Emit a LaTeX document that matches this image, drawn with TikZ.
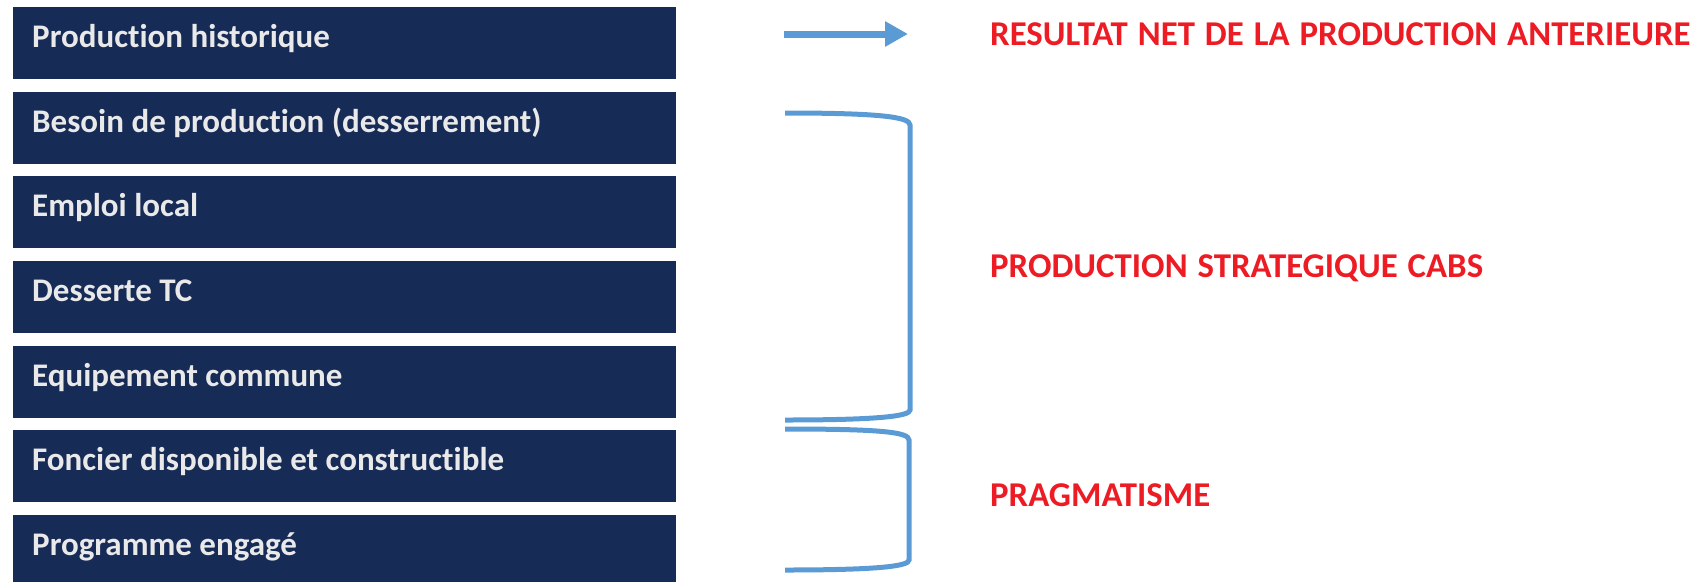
\documentclass[tikz,border=0pt]{standalone}
\usepackage{fontspec}
\setmainfont{Carlito}[Ligatures={NoCommon}]
\usetikzlibrary{arrows.meta}
\definecolor{boxblue}{HTML}{172B57}
\definecolor{textgrey}{HTML}{E9E9E9}
\definecolor{redtxt}{HTML}{ED1C24}
\definecolor{linkblue}{HTML}{5B9BD5}
\newcommand\myredspaces{\spaceskip=10pt plus 2pt minus 2pt\relax}
\begin{document}
\begin{tikzpicture}[x=1pt,y=-1pt,
  item/.style={fill=boxblue, draw=none, anchor=north west, minimum width=663pt, minimum height=72pt, inner sep=0pt, outer sep=0pt},
  itemtext/.style={anchor=base west, inner sep=0pt, text=textgrey, font=\fontsize{33}{36}\selectfont\bfseries},
  result/.style={anchor=base west, inner sep=0pt, text=redtxt, font=\fontsize{34.8}{38}\selectfont\bfseries, execute at begin node=\myredspaces},
  brace/.style={draw=linkblue, line width=5pt},
]
\useasboundingbox (0,0) rectangle (1702,582);
\node[item] (b1) at (13,7) {};
\node[item] (b2) at (13,92) {};
\node[item] (b3) at (13,176) {};
\node[item] (b4) at (13,261) {};
\node[item] (b5) at (13,346) {};
\node[item] (b6) at (13,430) {};
\node[item, minimum height=67pt] (b7) at (13,515) {};
\node[itemtext] (t1) at (32,47) {Production historique};
\node[itemtext] (t2) at (32,132) {Besoin de production (desserrement)};
\node[itemtext] (t3) at (32,216) {Emploi local};
\node[itemtext] (t4) at (32,301) {Desserte TC};
\node[itemtext] (t5) at (32,386) {Equipement commune};
\node[itemtext] (t6) at (32,470) {Foncier disponible et constructible};
\node[itemtext] (t7) at (32,555) {Programme engagé};
\node[result] (r1) at (990,45) {RESULTAT NET DE LA PRODUCTION ANTERIEURE};
\node[result] (r2) at (990,277) {PRODUCTION STRATEGIQUE CABS};
\node[result] (r3) at (990,506) {PRAGMATISME};
\coordinate (a0) at (784,34);
\coordinate (a1) at (908,34);
\draw[linkblue, line width=7pt, -{Triangle[length=23pt,width=24pt]}] (a0) -- (a1);
\coordinate (p1) at (785,113);
\coordinate (p2) at (785,420);
\draw[brace] (p1) .. controls (880,113) and (910,117) .. (910,125) -- (910,410) .. controls (910,416) and (880,420) .. (p2);
\coordinate (q1) at (785,429);
\coordinate (q2) at (785,570);
\draw[brace] (q1) .. controls (880,429) and (909,432) .. (909,440) -- (909,560) .. controls (909,566) and (880,570) .. (q2);
\end{tikzpicture}
\end{document}
